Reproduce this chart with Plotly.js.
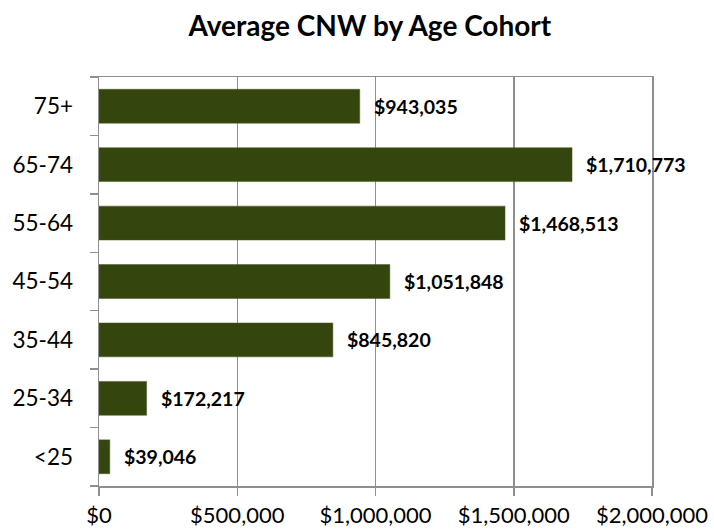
<!DOCTYPE html>
<html>
<head>
<meta charset="utf-8">
<script src="https://cdn.plot.ly/plotly-3.0.1.min.js"></script>
<style>html,body{margin:0;padding:0;background:#fff}#chart{width:714px;height:531px}</style>
</head>
<body>
<div id="chart"></div>
<script>
const categories = ['<25', '25-34', '35-44', '45-54', '55-64', '65-74', '75+'];
const values = [39046, 172217, 845820, 1051848, 1468513, 1710773, 943035];
const tickVals = [0, 500000, 1000000, 1500000, 2000000];
const tickText = ['$0', '$500,000', '$1,000,000', '$1,500,000', '$2,000,000'];

const fmt = v => '$' + v.toLocaleString('en-US');
const FONT = 'Lato, "Open Sans", sans-serif';
const GRID = '#8f8f8f';

const trace = {
  type: 'bar',
  orientation: 'h',
  x: values,
  y: categories,
  marker: { color: '#35450e', line: { color: '#4a5a22', width: 0.5 } },
  hoverinfo: 'skip'
};

const annotations = values.map((v, i) => ({
  x: v, y: categories[i], xref: 'x', yref: 'y',
  text: '<b>' + fmt(v) + '</b>',
  showarrow: false, xanchor: 'left', yanchor: 'middle', xshift: 12,
  font: { family: FONT, size: 19.5, color: '#000' }
}));

const layout = {
  width: 714, height: 531,
  margin: { l: 99, r: 62, t: 77, b: 45 },
  paper_bgcolor: '#fff', plot_bgcolor: '#fff',
  title: { text: '<b>Average CNW by Age Cohort</b>', x: 0.518, xanchor: 'center', y: 0.95, yanchor: 'middle',
           font: { family: FONT, size: 28, color: '#000' } },
  bargap: 0.42,
  showlegend: false,
  xaxis: {
    range: [0, 2000000], tickvals: tickVals, ticktext: tickText,
    showgrid: true, gridcolor: GRID, gridwidth: 1.5,
    showline: true, linecolor: GRID, linewidth: 1.5, mirror: true,
    ticks: 'outside', ticklen: 8, tickcolor: GRID, tickwidth: 1.5,
    ticklabelstandoff: 1,
    zeroline: false, fixedrange: true,
    tickfont: { family: FONT, size: 22, color: '#000' }
  },
  yaxis: {
    type: 'category', tickson: 'boundaries',
    showgrid: false, showline: true, linecolor: GRID, linewidth: 1.5, mirror: true,
    ticks: 'outside', ticklen: 8, tickcolor: GRID, tickwidth: 1.5,
    ticklabelstandoff: 20,
    zeroline: false, fixedrange: true,
    tickfont: { family: FONT, size: 22.5, color: '#000' }
  },
  annotations: annotations
};

Plotly.newPlot('chart', [trace], layout, { displayModeBar: false, staticPlot: true });
</script>
</body>
</html>
